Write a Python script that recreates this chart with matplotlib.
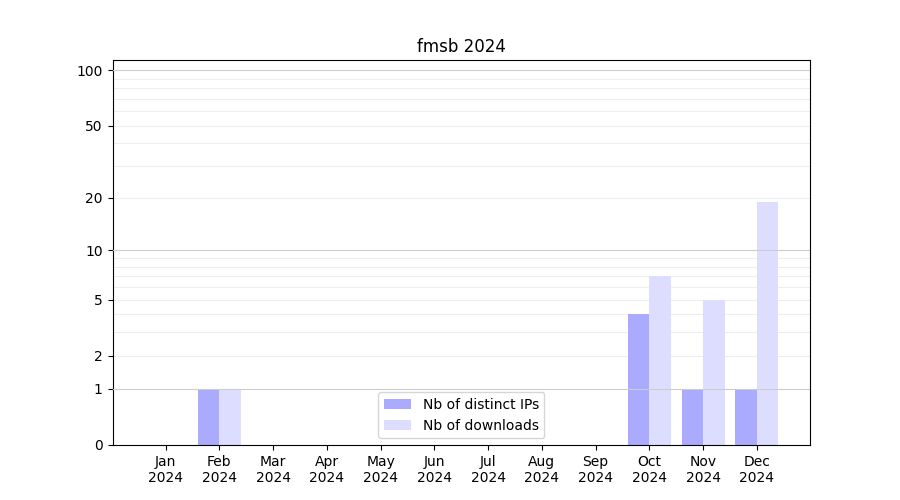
import matplotlib
matplotlib.use("Agg")
import matplotlib.pyplot as plt
import numpy as np

months = ["Jan", "Feb", "Mar", "Apr", "May", "Jun",
          "Jul", "Aug", "Sep", "Oct", "Nov", "Dec"]
year = "2024"
distinct_ips = [0, 1, 0, 0, 0, 0, 0, 0, 0, 4, 1, 1]
downloads = [0, 1, 0, 0, 0, 0, 0, 0, 0, 7, 5, 19]

x = np.arange(len(months))
fig, ax = plt.subplots(figsize=(9, 5), dpi=100)

ax.set_yscale("function", functions=(lambda v: np.log10(1 + np.maximum(v, 0)),
                                     lambda v: 10 ** v - 1))

ax.bar(x, distinct_ips, width=-0.4, align="edge", color="#aaaaff",
       label="Nb of distinct IPs", zorder=2)
ax.bar(x, downloads, width=0.4, align="edge", color="#ddddff",
       label="Nb of downloads", zorder=2)

ax.set_ylim(0, 113.6)
ax.set_yticks([0, 1, 2, 5, 10, 20, 50, 100])
ax.set_yticklabels(["0", "1", "2", "5", "10", "20", "50", "100"])
minor = [3, 4, 6, 7, 8, 9, 30, 40, 60, 70, 80, 90]
ax.set_yticks(minor, minor=True)
ax.tick_params(axis="y", which="minor", length=0)

for v in [2, 5, 20, 50] + minor:
    ax.axhline(v, color="#eeeeee", lw=0.8, zorder=1)
for v in [1, 10, 100]:
    ax.axhline(v, color="#cccccc", lw=0.8, zorder=3)

ax.set_xticks(x)
ax.set_xticklabels([f"{m}\n{year}" for m in months])
ax.set_title("fmsb 2024")
ax.legend(loc="lower center")

fig.savefig("out.png")
